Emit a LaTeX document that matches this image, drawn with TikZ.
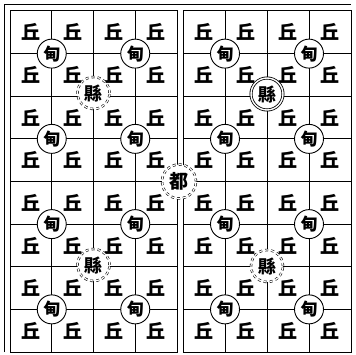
\documentclass[tikz,border=0pt]{standalone}
\usepackage{fontspec}
\newfontfamily\cjk{Noto Sans CJK TC}
\begin{document}
\begin{tikzpicture}[x=1pt,y=-1pt,
  frameline/.style={line width=1pt},
  gridline/.style={line width=0.9pt},
  qiu/.style={font=\cjk\bfseries\fontsize{19}{19}\selectfont, inner sep=0pt},
  dian/.style={circle, draw, fill=white, minimum size=29pt, inner sep=0pt, line width=0.9pt, font=\cjk\bfseries\fontsize{17}{17}\selectfont},
  xian/.style={circle, draw, double, double distance=1.2pt, dashed, fill=white, minimum size=32pt, inner sep=0pt, line width=0.6pt, font=\cjk\bfseries\fontsize{18}{18}\selectfont},
  xiansolid/.style={circle, draw, double, double distance=1.4pt, fill=white, minimum size=32pt, inner sep=0pt, line width=0.8pt, font=\cjk\bfseries\fontsize{18}{18}\selectfont},
  du/.style={circle, draw, double, double distance=1.2pt, dashed, fill=white, minimum size=34pt, inner sep=0pt, line width=0.6pt, font=\cjk\bfseries\fontsize{19}{19}\selectfont}]
\useasboundingbox (0,0) rectangle (356,355);
\fill[white] (0,0) rectangle (356,355);
% outer frame
\draw[frameline] (4,352) -- (4,5) -- (351,5);
\draw[frameline] (10,11) rectangle (177,352);
\draw[frameline] (183,11) rectangle (351,352);
% grid lines
\foreach \k in {1,...,7}{
  \pgfmathsetmacro{\yy}{11+42.625*\k}
  \draw[gridline] (10,\yy) -- (177,\yy);
  \draw[gridline] (183,\yy) -- (351,\yy);
}
\foreach \k in {1,2,3}{
  \pgfmathsetmacro{\xl}{10+41.75*\k}
  \pgfmathsetmacro{\xr}{183+42*\k}
  \draw[gridline] (\xl,11) -- (\xl,352);
  \draw[gridline] (\xr,11) -- (\xr,352);
}
% qiu characters
\foreach \i in {0,...,3}{
  \foreach \j in {0,...,7}{
    \pgfmathsetmacro{\xl}{10+41.75*(\i+0.5)}
    \pgfmathsetmacro{\xr}{183+42*(\i+0.5)}
    \pgfmathsetmacro{\yy}{11+42.625*(\j+0.5)}
    \node[qiu] (ql-\i-\j) at (\xl,\yy) {丘};
    \node[qiu] (qr-\i-\j) at (\xr,\yy) {丘};
  }
}
% dian circles
\foreach \i in {1,3}{
  \foreach \j in {1,3,5,7}{
    \pgfmathsetmacro{\xl}{10+41.75*\i}
    \pgfmathsetmacro{\xr}{183+42*\i}
    \pgfmathsetmacro{\yy}{11+42.625*\j}
    \node[dian] (dl-\i-\j) at (\xl,\yy) {甸};
    \node[dian] (dr-\i-\j) at (\xr,\yy) {甸};
  }
}
% xian circles
\node[xian] (x1) at (93.5,93) {縣};
\node[xiansolid] (x2) at (267,94) {縣};
\node[xian] (x3) at (93.5,265) {縣};
\node[xian] (x4) at (267,266) {縣};
% du circle
\node[du] (du) at (179,181.5) {都};
\end{tikzpicture}
\end{document}
